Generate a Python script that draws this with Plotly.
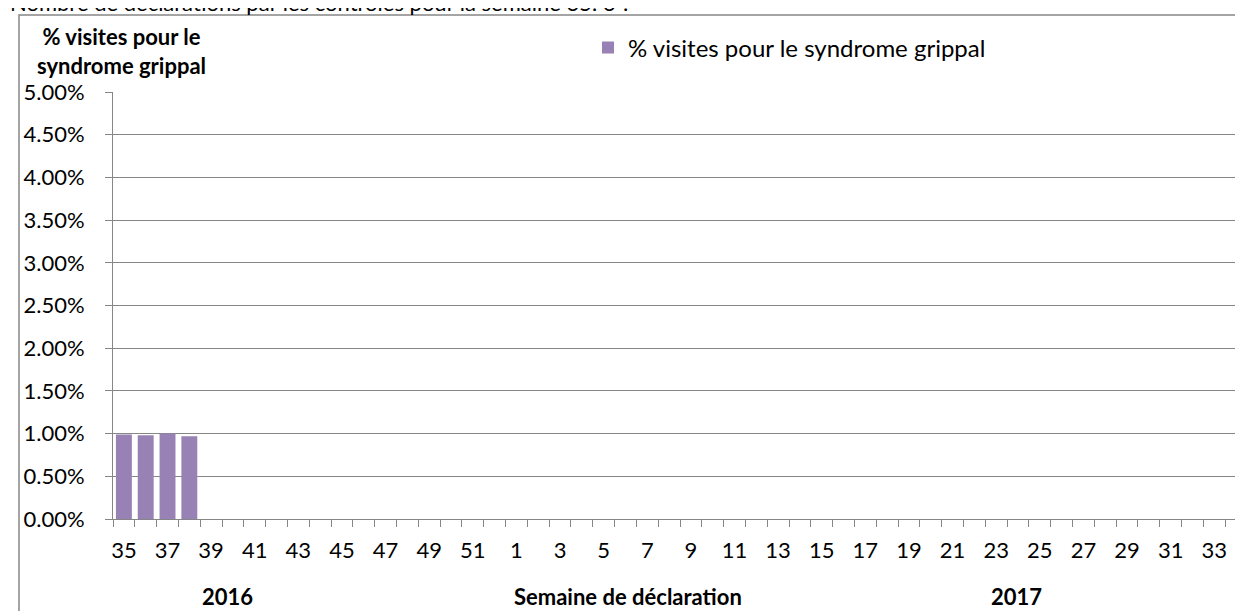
import plotly.graph_objects as go

weeks = [str(w) for w in list(range(35, 53)) + list(range(1, 35))]
pct_values = [0.0099, 0.0098, 0.0100, 0.0097] + [None] * (len(weeks) - 4)
series_name = "% visites pour le syndrome grippal"
y_ticks = [i * 0.005 for i in range(11)]
year_labels = ["2016", "2017"]
x_title = "Semaine de déclaration"
y_title_lines = ["% visites pour le", "syndrome grippal"]
top_text = "Nombre de déclarations par les contrôlés pour la semaine 35. 3 ?"

W, H = 1243, 611
L, R, T, B = 105, 4, 84, 100
pw, ph = W - L - R, H - T - B


def px_x(px):
    return (px - L) / pw


def px_y(py):
    return (H - B - py) / ph


FONT = "Lato, Open Sans, sans-serif"
GREY = "#868686"
FS = 22

fig = go.Figure()
fig.add_trace(go.Bar(
    x=weeks, y=pct_values, name=series_name,
    marker=dict(color="#9882B5", line=dict(width=0)),
    showlegend=True,
))

ticktext = [w if i % 2 == 0 else "" for i, w in enumerate(weeks)]

fig.update_layout(
    width=W, height=H,
    margin=dict(l=L, r=R, t=T, b=B, pad=0, autoexpand=False),
    paper_bgcolor="white", plot_bgcolor="white",
    font=dict(family=FONT, size=FS, color="black"),
    bargap=0.27,
    showlegend=True,
    legend=dict(
        orientation="h", x=px_x(580), y=px_y(40), xanchor="left", yanchor="middle",
        font=dict(size=24), itemwidth=30, bgcolor="rgba(0,0,0,0)",
    ),
    xaxis=dict(
        type="category", tickmode="array", tickvals=weeks, ticktext=ticktext,
        tickson="boundaries", ticks="outside", ticklen=7, tickcolor=GREY,
        showline=True, linecolor=GREY, linewidth=1, showgrid=False,
        tickfont=dict(size=FS), tickangle=0, automargin=False,
        ticklabelstandoff=12, range=[-0.5, len(weeks) - 0.5],
    ),
    yaxis=dict(
        range=[0, 0.05], tickvals=y_ticks, tickformat=".2%",
        ticks="outside", ticklen=7, tickcolor=GREY,
        showline=True, linecolor=GREY, linewidth=1,
        showgrid=True, gridcolor=GREY, gridwidth=1,
        tickfont=dict(size=FS), zeroline=False, automargin=False,
        ticklabelstandoff=16,
    ),
    shapes=[dict(
        type="rect", xref="paper", yref="paper",
        x0=px_x(11), x1=px_x(1270), y0=px_y(640), y1=px_y(7),
        line=dict(color=GREY, width=1.5), fillcolor="rgba(0,0,0,0)", layer="below",
    )],
    annotations=[
        dict(text="<b>" + y_title_lines[0] + "</b><br><b>" + y_title_lines[1] + "</b>",
             xref="paper", yref="paper", x=px_x(113), y=px_y(43),
             xanchor="center", yanchor="middle", showarrow=False,
             font=dict(size=FS, family=FONT, color="black"), align="center"),
        dict(text="<b>" + year_labels[0] + "</b>", xref="paper", yref="paper",
             x=px_x(219), y=px_y(588), xanchor="center", yanchor="middle",
             showarrow=False, font=dict(size=FS)),
        dict(text="<b>" + x_title + "</b>", xref="paper", yref="paper",
             x=px_x(620), y=px_y(588), xanchor="center", yanchor="middle",
             showarrow=False, font=dict(size=FS)),
        dict(text="<b>" + year_labels[1] + "</b>", xref="paper", yref="paper",
             x=px_x(1008), y=px_y(588), xanchor="center", yanchor="middle",
             showarrow=False, font=dict(size=FS)),
        dict(text=top_text, xref="paper", yref="paper", x=px_x(0), y=px_y(10),
             xanchor="left", yanchor="bottom", showarrow=False,
             font=dict(size=FS)),
    ],
)

fig.write_html("out.html")
